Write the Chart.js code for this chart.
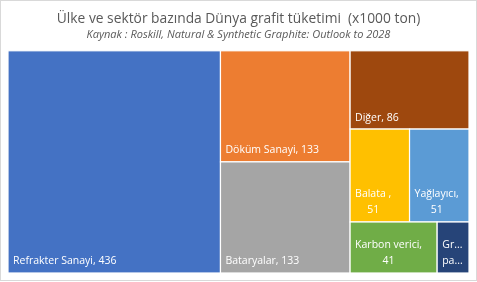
<!DOCTYPE html>
<html><head><meta charset="utf-8">
<script src="https://cdn.jsdelivr.net/npm/chart.js@4/dist/chart.umd.min.js"></script>
<style>html,body{margin:0;padding:0;background:#fff}#wrap{width:477px;height:282px;position:relative}</style>
</head><body><div id="wrap"><canvas id="c" width="477" height="282"></canvas></div>
<script>
const categories = ["Refrakter Sanayi", "Döküm Sanayi", "Bataryalar", "Diğer", "Balata ", "Yağlayıcı", "Karbon verici", "Grafit parlatıcı"];
const values = [436, 133, 133, 86, 51, 51, 41, 15];
const colors = ["#4472C4", "#ED7D31", "#A5A5A5", "#9E480E", "#FFC000", "#5B9BD5", "#70AD47", "#264478"];
const titleText = "Ülke ve sektör bazında Dünya grafit tüketimi  (x1000 ton)";
const subtitleText = "Kaynak : Roskill, Natural & Synthetic Graphite: Outlook to 2028";

function worst(row, side, scale) {
  const s = row.reduce((a, b) => a + b, 0) * scale;
  const mx = Math.max(...row) * scale, mn = Math.min(...row) * scale;
  return Math.max(side * side * mx / (s * s), (s * s) / (side * side * mn));
}
function squarify(vals, W, H) {
  const total = vals.reduce((a, b) => a + b, 0);
  const scale = W * H / total;
  let x = 0, y = 0, w = W, h = H, i = 0;
  const rects = [];
  while (i < vals.length) {
    const side = Math.min(w, h);
    let row = [vals[i]];
    let j = i + 1;
    while (j < vals.length) {
      const cand = row.concat([vals[j]]);
      if (worst(cand, side, scale) <= worst(row, side, scale)) { row = cand; j++; } else break;
    }
    const s = row.reduce((a, b) => a + b, 0) * scale;
    if (w >= h) {
      const cw = s / h; let yy = y;
      row.forEach((v, k) => { const ch = v * scale / cw; rects.push({ i: i + k, x0: x, y0: yy, x1: x + cw, y1: yy + ch }); yy += ch; });
      x += cw; w -= cw;
    } else {
      const rh = s / w; let xx = x;
      row.forEach((v, k) => { const rw = v * scale / rh; rects.push({ i: i + k, x0: xx, y0: y, x1: xx + rw, y1: y + rh }); xx += rw; });
      y += rh; h -= rh;
    }
    i = j;
  }
  return rects;
}

function fitWord(ctx, word, maxW) {
  if (ctx.measureText(word).width <= maxW) return word;
  for (let n = word.length - 1; n >= 1; n--) {
    const t = word.slice(0, n) + "...";
    if (ctx.measureText(t).width <= maxW) return t;
  }
  return word.slice(0, 1) + "...";
}

const treemapPlugin = {
  id: "treemap",
  beforeDatasetsDraw(chart) {
    const ctx = chart.ctx, ca = chart.chartArea;
    const xs = chart.scales.x, ys = chart.scales.y;
    const aspect = ca.width / ca.height;
    const rects = squarify(values, aspect, 1);
    ctx.save();
    rects.forEach(r => {
      const px0 = xs.getPixelForValue(r.x0 / aspect), px1 = xs.getPixelForValue(r.x1 / aspect);
      const py0 = ys.getPixelForValue(r.y0), py1 = ys.getPixelForValue(r.y1);
      ctx.fillStyle = colors[r.i];
      ctx.fillRect(px0, py0, px1 - px0, py1 - py0);
      ctx.strokeStyle = "#ffffff";
      ctx.lineWidth = 1.2;
      ctx.strokeRect(px0, py0, px1 - px0, py1 - py0);
      const pad = 5, lineH = 16;
      ctx.font = "10.5px 'Open Sans'";
      ctx.fillStyle = "#ffffff";
      ctx.textBaseline = "middle";
      const maxW = px1 - px0 - 2 * pad;
      const full = categories[r.i] + ", " + values[r.i];
      let lines;
      if (ctx.measureText(full).width <= maxW) lines = [full];
      else {
        const words = full.split(" ").filter(s => s.length);
        lines = [];
        let cur = "";
        words.forEach(wd => {
          const t = cur ? cur + " " + wd : wd;
          if (ctx.measureText(t).width <= maxW) cur = t;
          else { if (cur) lines.push(cur); cur = wd; }
        });
        if (cur) lines.push(cur);
        lines = lines.map(l => fitWord(ctx, l, maxW));
      }
      const maxLines = Math.max(1, Math.floor((py1 - py0 - 2 * pad) / lineH));
      if (lines.length > maxLines) lines = lines.slice(0, maxLines);
      const blockW = Math.max(...lines.map(l => ctx.measureText(l).width));
      const n = lines.length;
      lines.forEach((l, k) => {
        const yy = py1 - 11.5 - (n - 1 - k) * lineH;
        if (n === 1) { ctx.textAlign = "left"; ctx.fillText(l, px0 + pad, yy); }
        else { ctx.textAlign = "center"; ctx.fillText(l, px0 + pad + blockW / 2, yy); }
      });
    });
    ctx.restore();
  },
  afterDraw(chart) {
    const ctx = chart.ctx;
    ctx.save();
    ctx.strokeStyle = "#D9D9D9";
    ctx.lineWidth = 1;
    ctx.strokeRect(0.5, 0.5, 476, 280);
    ctx.restore();
  }
};

new Chart(document.getElementById("c"), {
  type: "scatter",
  data: { datasets: [{ data: categories.map(() => ({ x: 0.5, y: 0.5 })), pointRadius: 0, pointHoverRadius: 0 }] },
  options: {
    responsive: false,
    animation: false,
    events: [],
    layout: { padding: { left: 8, right: 8, bottom: 9, top: 0 } },
    scales: {
      x: { type: "linear", min: 0, max: 1, display: false },
      y: { type: "linear", min: 0, max: 1, reverse: true, display: false }
    },
    plugins: {
      legend: { display: false },
      tooltip: { enabled: false },
      title: { display: true, text: titleText, color: "#595959", font: { family: "'Open Sans'", size: 13.8, weight: "normal", lineHeight: 1.2 }, padding: { top: 11, bottom: 1 } },
      subtitle: { display: true, text: subtitleText, color: "#595959", font: { family: "'Open Sans'", size: 11, style: "italic", weight: "normal", lineHeight: 1.2 }, padding: { top: 0, bottom: 9 } }
    }
  },
  plugins: [treemapPlugin]
});
</script></body></html>
